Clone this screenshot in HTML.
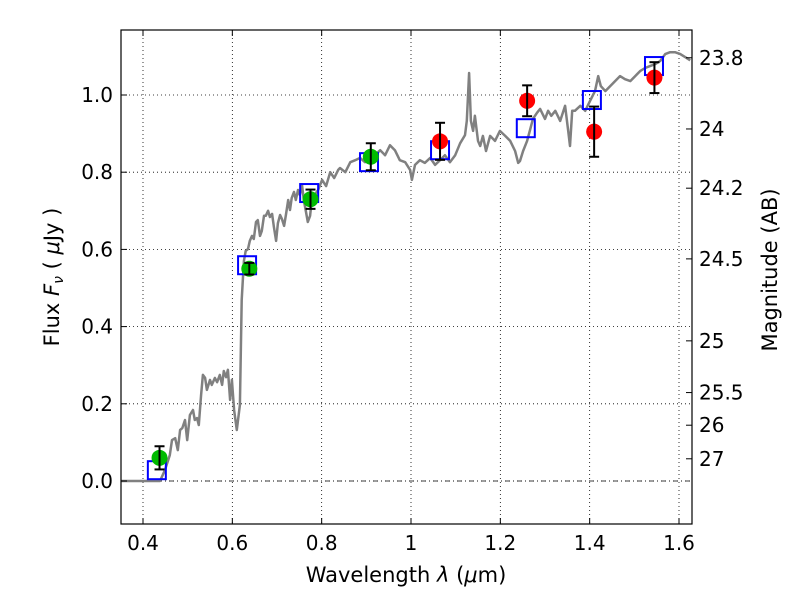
<!DOCTYPE html>
<html><head><meta charset="utf-8"><style>
body{margin:0;background:#fff;}
text{font-family:"DejaVu Sans","Liberation Sans",sans-serif;}
</style></head><body>
<svg id="c" width="800" height="600" xmlns="http://www.w3.org/2000/svg">
<rect width="800" height="600" fill="#fff"/>
</svg>
<script>
const specW=[0.351,0.438,0.449,0.460,0.465,0.472,0.478,0.483,0.488,0.494,0.499,0.505,0.512,0.516,0.521,0.525,0.530,0.534,0.539,0.543,0.550,0.554,0.561,0.566,0.572,0.577,0.581,0.586,0.590,0.595,0.599,0.604,0.610,0.617,0.621,0.626,0.630,0.635,0.639,0.644,0.648,0.653,0.657,0.662,0.666,0.671,0.675,0.680,0.684,0.689,0.693,0.698,0.702,0.707,0.711,0.716,0.720,0.725,0.729,0.733,0.738,0.742,0.747,0.751,0.756,0.760,0.765,0.769,0.774,0.778,0.783,0.787,0.792,0.801,0.810,0.819,0.828,0.837,0.841,0.853,0.864,0.875,0.886,0.897,0.908,0.919,0.931,0.942,0.953,0.964,0.975,0.987,0.998,1.002,1.009,1.020,1.031,1.043,1.054,1.065,1.076,1.087,1.099,1.110,1.121,1.125,1.130,1.134,1.139,1.143,1.150,1.155,1.161,1.168,1.177,1.188,1.199,1.211,1.222,1.233,1.240,1.244,1.251,1.260,1.267,1.273,1.282,1.289,1.300,1.307,1.314,1.323,1.334,1.345,1.352,1.356,1.361,1.367,1.379,1.390,1.401,1.412,1.419,1.425,1.435,1.446,1.457,1.468,1.479,1.491,1.502,1.513,1.524,1.535,1.547,1.558,1.569,1.580,1.591,1.603,1.614,1.625];
const specF=[0,0,0.028,0.067,0.106,0.111,0.080,0.132,0.137,0.158,0.106,0.171,0.184,0.158,0.163,0.145,0.223,0.275,0.267,0.236,0.262,0.249,0.267,0.256,0.275,0.249,0.285,0.269,0.288,0.210,0.262,0.184,0.132,0.197,0.469,0.570,0.596,0.601,0.622,0.635,0.627,0.671,0.676,0.635,0.648,0.687,0.687,0.700,0.684,0.692,0.658,0.622,0.668,0.689,0.679,0.661,0.689,0.728,0.702,0.733,0.749,0.728,0.754,0.741,0.767,0.728,0.697,0.671,0.687,0.728,0.733,0.746,0.754,0.780,0.764,0.800,0.785,0.806,0.811,0.800,0.826,0.831,0.837,0.826,0.837,0.844,0.857,0.844,0.870,0.857,0.831,0.826,0.806,0.780,0.819,0.831,0.824,0.837,0.819,0.831,0.844,0.826,0.844,0.875,0.896,0.933,1.057,0.933,0.907,0.946,0.881,0.868,0.894,0.855,0.894,0.881,0.907,0.894,0.881,0.855,0.824,0.829,0.855,0.881,0.912,0.938,0.954,0.964,0.938,0.959,0.946,0.959,0.933,0.972,0.907,0.868,0.959,0.959,0.972,0.959,0.985,1.010,1.049,1.023,1.010,1.023,1.036,1.049,1.041,1.036,1.049,1.062,1.070,1.075,1.080,1.088,1.106,1.111,1.111,1.106,1.098,1.090];
const greenW=[0.437,0.638,0.775,0.910];
const greenF=[0.06,0.55,0.73,0.84];
const greenE=[0.03,0.015,0.025,0.035];
const redW=[1.065,1.26,1.41,1.545];
const redF=[0.88,0.985,0.905,1.045];
const redE=[0.048,0.04,0.065,0.04];
const sqW=[0.431,0.633,0.772,0.906,1.065,1.257,1.405,1.544];
const sqF=[0.028,0.559,0.746,0.826,0.857,0.914,0.987,1.075];
const xTicks=[0.4,0.6,0.8,1.0,1.2,1.4,1.6];
const xTickLabels=["0.4","0.6","0.8","1","1.2","1.4","1.6"];
const yTicks=[0,0.2,0.4,0.6,0.8,1.0];
const yTickLabels=["0.0","0.2","0.4","0.6","0.8","1.0"];
const magTicks=[23.8,24,24.2,24.5,25,25.5,26,27];
const magLabels=["23.8","24","24.2","24.5","25","25.5","26","27"];

const L=121,R=692,T=30,B=524;
const X=w=>143+(w-0.4)*(536/1.2);
const Y=f=>481-f*386;
const svg=document.getElementById('c');
const NS='http://www.w3.org/2000/svg';
function mk(tag,attrs,parent){const e=document.createElementNS(NS,tag);for(const k in attrs)e.setAttribute(k,attrs[k]);(parent||svg).appendChild(e);return e;}

const grid=mk('g',{});


xTicks.forEach(t=>{mk('line',{x1:X(t),x2:X(t),y1:T,y2:B,stroke:'#000','stroke-width':0.8,'stroke-dasharray':'1,3'},grid);});
yTicks.forEach(t=>{mk('line',{x1:L,x2:R,y1:Y(t),y2:Y(t),stroke:'#000','stroke-width':0.8,'stroke-dasharray':'1,3'},grid);});
const z=mk('line',{x1:L,x2:R,y1:Y(0),y2:Y(0),stroke:'#000','stroke-width':0.8,'stroke-dasharray':'5,3,1,3'});



let d='';specW.forEach((w,i)=>{d+=(i?'L':'M')+X(w).toFixed(1)+','+Y(specF[i]).toFixed(1);});
const sp=mk('path',{d:d,fill:'none',stroke:'#808080','stroke-width':2.5,'stroke-linejoin':'round'});



sqW.forEach((w,i)=>{const r=mk('rect',{x:X(w)-9,y:Y(sqF[i])-9,width:18,height:18,fill:'none',stroke:'#0000ff','stroke-width':2});

});

function pts(W,F,E,col,name){W.forEach((w,i)=>{
 const c=mk('circle',{cx:X(w),cy:Y(F[i]),r:8,fill:col});
 
 
 const g=mk('g',{stroke:'#000','stroke-width':2});
 
 
 const x=X(w),y1=Y(F[i]+E[i]),y2=Y(F[i]-E[i]);
 mk('line',{x1:x,x2:x,y1:y1,y2:y2},g);
 mk('line',{x1:x-5,x2:x+5,y1:y1,y2:y1},g);
 mk('line',{x1:x-5,x2:x+5,y1:y2,y2:y2},g);
});}
pts(greenW,greenF,greenE,'#00bb00','observed-point-green');
pts(redW,redF,redE,'#ff0000','observed-point-red');

const fr=mk('rect',{x:L,y:T,width:R-L,height:B-T,fill:'none',stroke:'#000','stroke-width':1.2});



xTicks.forEach((t,i)=>{mk('line',{x1:X(t),x2:X(t),y1:B,y2:B-6,stroke:'#000'});mk('line',{x1:X(t),x2:X(t),y1:T,y2:T+6,stroke:'#000'});
 const tx=mk('text',{x:X(t),y:B+26,'font-size':20,'text-anchor':'middle'});tx.textContent=xTickLabels[i];
 
 });
yTicks.forEach((t,i)=>{mk('line',{x1:L,x2:L+6,y1:Y(t),y2:Y(t),stroke:'#000'});
 const tx=mk('text',{x:L-8,y:Y(t)+7,'font-size':20,'text-anchor':'end'});tx.textContent=yTickLabels[i];
 
 });
magTicks.forEach((m,i)=>{const y=Y(Math.pow(10,(23.9-m)/2.5));
 mk('line',{x1:R,x2:R-6,y1:y,y2:y,stroke:'#000'});
 const tx=mk('text',{x:R+7,y:y+7,'font-size':20});tx.textContent=magLabels[i];
 
 });

const xt=mk('text',{x:406,y:582,'font-size':21,'text-anchor':'middle'});
xt.innerHTML='Wavelength  <tspan font-style="italic">λ</tspan> (<tspan font-style="italic">μ</tspan>m)';


const yt=mk('text',{x:0,y:0,'font-size':21,'text-anchor':'middle',transform:'translate(59,277) rotate(-90)'});
yt.innerHTML='Flux  <tspan font-style="italic">F</tspan><tspan font-style="italic" font-size="14" dy="4">ν</tspan><tspan dy="-4">  ( </tspan><tspan font-style="italic">μ</tspan>Jy )';


const rt=mk('text',{x:0,y:0,'font-size':21,'text-anchor':'middle',transform:'translate(777,270) rotate(-90)'});
rt.textContent='Magnitude (AB)';


</script>
</body></html>
